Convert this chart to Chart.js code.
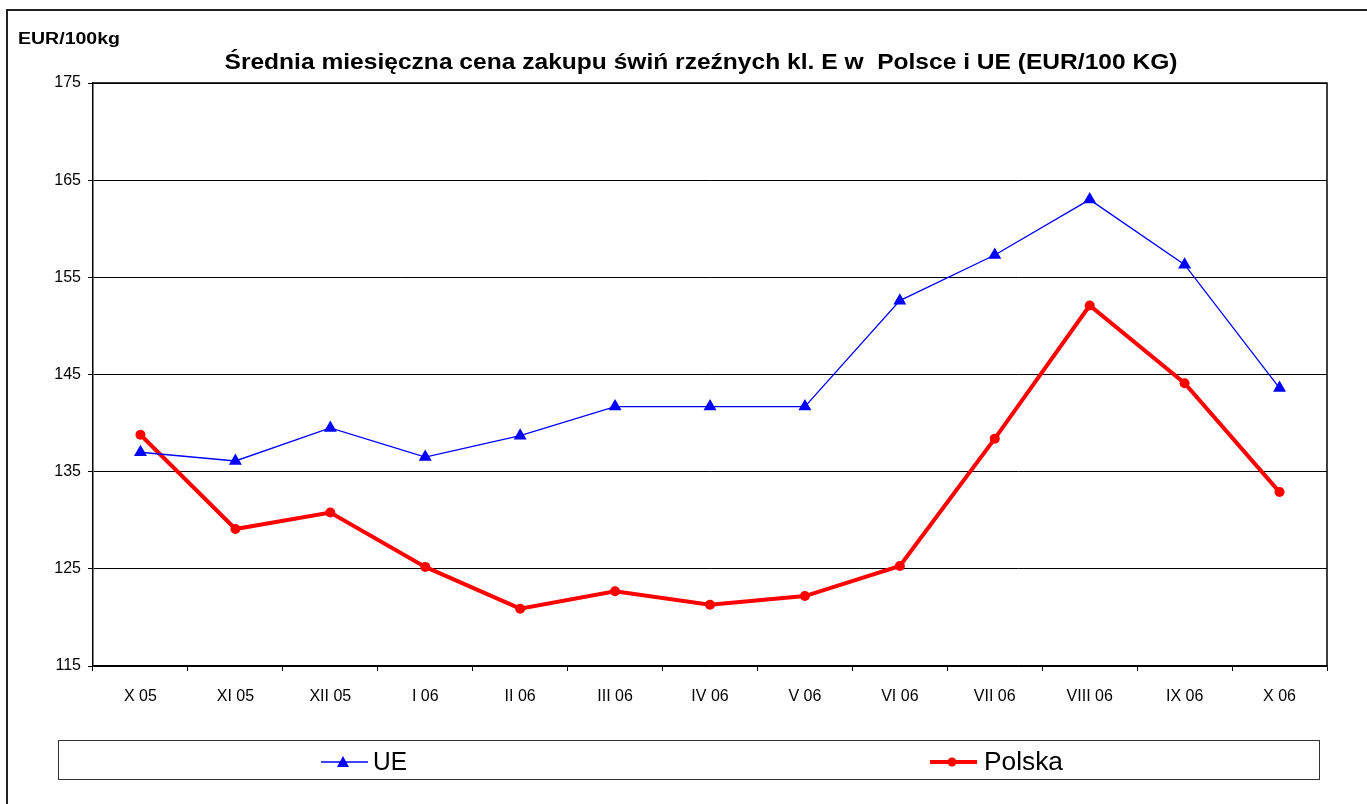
<!DOCTYPE html>
<html>
<head>
<meta charset="utf-8">
<script src="https://cdn.jsdelivr.net/npm/chart.js@4"></script>
<style>
html,body{margin:0;padding:0;background:#fff;}
#wrap{width:1367px;height:804px;position:relative;}
</style>
</head>
<body>
<div id="wrap"><canvas id="c" width="1367" height="804"></canvas></div>
<script>
const categories = ['X 05','XI 05','XII 05','I 06','II 06','III 06','IV 06','V 06','VI 06','VII 06','VIII 06','IX 06','X 06'];
const ueValues = [137.0,136.1,139.5,136.5,138.7,141.7,141.7,141.7,152.6,157.3,163.0,156.3,143.6];
const polskaValues = [138.8,129.1,130.8,125.2,120.9,122.7,121.3,122.2,125.3,138.4,152.1,144.1,132.9];
const titleText = 'Średnia miesięczna cena zakupu świń rzeźnych kl. E w  Polsce i UE (EUR/100 KG)';
const unitText = 'EUR/100kg';
const yMin = 115, yMax = 175, yStep = 10;

const FONT = '"Liberation Sans", Arial, sans-serif';

function stretchedText(ctx, text, x, y, targetW, align) {
  const w = ctx.measureText(text).width;
  const sx = targetW / w;
  ctx.save();
  ctx.textAlign = 'left';
  let left = x;
  if (align === 'center') left = x - targetW / 2;
  ctx.translate(left, y);
  ctx.scale(sx, 1);
  ctx.fillText(text, 0, 0);
  ctx.restore();
}

const decor = {
  id: 'decor',
  beforeDraw(chart) {
    const ctx = chart.ctx;
    ctx.save();
    ctx.fillStyle = '#fff';
    ctx.fillRect(0, 0, chart.width, chart.height);
    ctx.strokeStyle = '#222';
    ctx.lineWidth = 2;
    ctx.beginPath();
    ctx.moveTo(7, 804);
    ctx.lineTo(7, 10);
    ctx.lineTo(1367, 10);
    ctx.stroke();
    ctx.restore();
  },
  afterDraw(chart) {
    const ctx = chart.ctx;
    const a = chart.chartArea;
    ctx.save();
    ctx.strokeStyle = '#000';
    ctx.lineWidth = 1.5;
    ctx.beginPath();
    ctx.moveTo(a.left, a.top);
    ctx.lineTo(a.right, a.top);
    ctx.lineTo(a.right, a.bottom);
    ctx.stroke();
    ctx.fillStyle = '#000';
    ctx.textBaseline = 'alphabetic';
    ctx.font = 'bold 16px ' + FONT;
    stretchedText(ctx, unitText, 18, 44, 102, 'left');
    ctx.font = 'bold 22px ' + FONT;
    stretchedText(ctx, titleText, 701, 69, 953, 'center');
    // legend
    ctx.strokeStyle = '#333';
    ctx.lineWidth = 1;
    ctx.strokeRect(58.5, 740.5, 1261, 39);
    const items = [{x: 321, tx: 373}, {x: 930, tx: 984}];
    const cy = 762;
    chart.data.datasets.forEach((ds, i) => {
      const it = items[i];
      ctx.strokeStyle = ds.borderColor;
      ctx.lineWidth = ds.borderWidth;
      ctx.beginPath();
      ctx.moveTo(it.x, cy);
      ctx.lineTo(it.x + 47, cy);
      ctx.stroke();
      ctx.fillStyle = ds.pointBackgroundColor;
      const mx = it.x + 22;
      if (ds.pointStyle === 'triangle') {
        ctx.beginPath();
        ctx.moveTo(mx, cy - 6);
        ctx.lineTo(mx + 6, cy + 5);
        ctx.lineTo(mx - 6, cy + 5);
        ctx.closePath();
        ctx.fill();
      } else {
        ctx.beginPath();
        ctx.arc(mx, cy, 4.5, 0, Math.PI * 2);
        ctx.fill();
      }
      ctx.fillStyle = '#000';
      ctx.font = '25px ' + FONT;
      ctx.textAlign = 'left';
      ctx.textBaseline = 'middle';
      const tw = i === 0 ? 34 : 79;
      stretchedText(ctx, ds.label, it.tx, cy + 1, tw, 'left');
    });
    ctx.restore();
  }
};

new Chart(document.getElementById('c'), {
  type: 'line',
  data: {
    labels: categories,
    datasets: [
      {
        label: 'UE',
        data: ueValues,
        borderColor: '#0000ff',
        backgroundColor: '#0000ff',
        pointBackgroundColor: '#0000ff',
        pointBorderColor: '#0000ff',
        borderWidth: 1.3,
        pointStyle: 'triangle',
        pointRadius: 7.5,
        pointBorderWidth: 0,
        tension: 0
      },
      {
        label: 'Polska',
        data: polskaValues,
        borderColor: '#ff0000',
        backgroundColor: '#ff0000',
        pointBackgroundColor: '#ff0000',
        pointBorderColor: '#ff0000',
        borderWidth: 4,
        pointStyle: 'circle',
        pointRadius: 5,
        pointBorderWidth: 0,
        tension: 0
      }
    ]
  },
  options: {
    responsive: false,
    animation: false,
    layout: { padding: { left: 0, top: 83, right: 40, bottom: 0 } },
    plugins: {
      legend: { display: false },
      title: { display: false },
      tooltip: { enabled: false }
    },
    scales: {
      x: {
        type: 'category',
        offset: true,
        afterFit(s) { s.height = 138; },
        grid: {
          offset: true,
          drawOnChartArea: false,
          drawTicks: true,
          tickLength: 5,
          color: '#000',
          lineWidth: 1
        },
        border: { display: true, color: '#000', width: 1.5 },
        ticks: {
          color: '#000',
          font: { family: FONT, size: 16 },
          padding: 16,
          maxRotation: 0,
          autoSkip: false
        }
      },
      y: {
        min: yMin,
        max: yMax,
        afterFit(s) { s.width = 93; },
        grid: {
          color: '#000',
          lineWidth: 1,
          drawTicks: true,
          tickLength: 5
        },
        border: { display: true, color: '#000', width: 1.5 },
        ticks: {
          stepSize: yStep,
          color: '#000',
          font: { family: FONT, size: 16 },
          padding: 7
        }
      }
    }
  },
  plugins: [decor]
});
</script>
</body>
</html>
